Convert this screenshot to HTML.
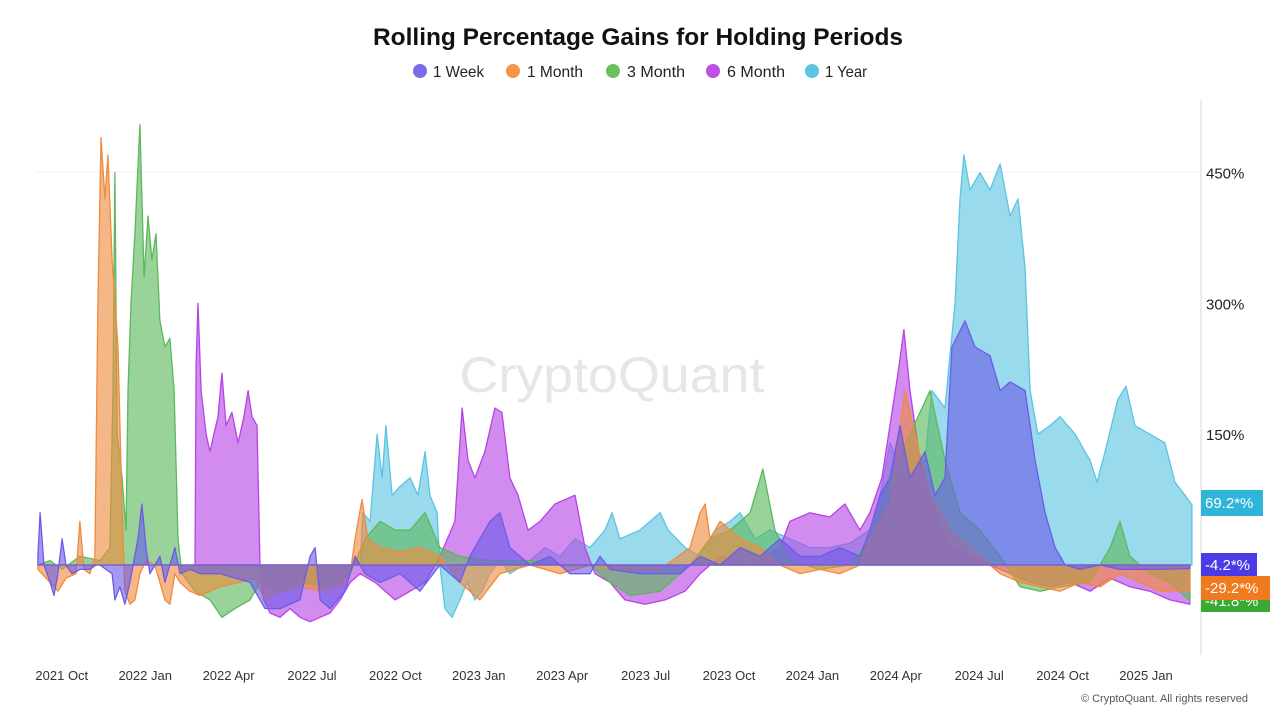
<!DOCTYPE html>
<html><head><meta charset="utf-8"><style>
html,body{margin:0;padding:0;background:#fff;}
svg{display:block;font-family:"Liberation Sans",sans-serif;}
</style></head><body>
<svg id="chart" width="1280" height="720" viewBox="0 0 1280 720">
<text x="638" y="45" text-anchor="middle" font-size="24" font-weight="bold" fill="#111" textLength="530" lengthAdjust="spacingAndGlyphs">Rolling Percentage Gains for Holding Periods</text>
<g font-size="16" fill="#222">
<g><circle cx="420" cy="71" r="7" fill="#7b6cea"/><text x="433" y="77" textLength="51" lengthAdjust="spacingAndGlyphs">1 Week</text></g>
<g><circle cx="513" cy="71" r="7" fill="#f4954a"/><text x="527" y="77" textLength="56" lengthAdjust="spacingAndGlyphs">1 Month</text></g>
<g><circle cx="613" cy="71" r="7" fill="#6cc05c"/><text x="627" y="77" textLength="58" lengthAdjust="spacingAndGlyphs">3 Month</text></g>
<g><circle cx="713" cy="71" r="7" fill="#c04fe0"/><text x="727" y="77" textLength="58" lengthAdjust="spacingAndGlyphs">6 Month</text></g>
<g><circle cx="812" cy="71" r="7" fill="#5ec4e4"/><text x="825" y="77" textLength="42" lengthAdjust="spacingAndGlyphs">1 Year</text></g>
</g>
<line x1="35" y1="172" x2="1200" y2="172" stroke="#f2f2f2"/>
<text x="612" y="392" text-anchor="middle" font-size="50" fill="#e6e6e6" textLength="305" lengthAdjust="spacingAndGlyphs">CryptoQuant</text>
<g id="series"></g>
<line x1="1201" y1="100" x2="1201" y2="655" stroke="#d8d8d8"/>
<g id="yticks" font-size="15" fill="#222"></g>
<g id="xticks" font-size="13" fill="#333"></g>
<g id="labels" font-size="15" fill="#fff"></g>
<text x="1248" y="702" text-anchor="end" font-size="11" fill="#555">© CryptoQuant. All rights reserved</text>
</svg>
<script>
// time in months since 2021-09-01
const yearT=[11.73,11.83,12.09,12.34,12.52,12.66,12.88,13.17,13.53,13.81,14.07,14.24,14.50,14.60,14.78,15.04,15.32,15.58,15.86,16.12,16.40,16.76,17.12,17.84,18.38,18.92,19.46,20.00,20.54,20.79,21.08,21.80,22.52,22.81,23.42,23.96,24.50,25.04,25.40,25.94,26.47,27.19,27.91,28.63,29.35,30.07,30.43,30.79,31.33,32.05,32.30,32.77,33.13,33.31,33.45,33.67,34.03,34.39,34.75,35.11,35.40,35.65,35.83,36.11,36.55,36.91,37.45,37.99,38.24,38.53,38.99,39.28,39.60,40.14,40.68,41.04,41.40,41.65];
const yearV=[0,60,50,150,100,160,80,90,100,80,130,80,60,0,-50,-60,-40,-20,-40,-30,-10,5,-10,5,20,10,30,20,40,60,30,40,60,40,20,10,40,50,60,30,40,30,20,20,25,40,80,140,100,120,200,180,300,420,470,430,450,430,460,400,420,340,200,150,160,170,150,120,95,130,190,205,160,150,140,95,80,69];

const sixT=[5.61,5.79,5.83,5.90,6.01,6.19,6.33,6.47,6.62,6.76,6.91,7.12,7.34,7.55,7.70,7.84,8.02,8.13,8.27,8.49,8.85,9.21,9.57,9.93,10.29,10.65,11.01,11.37,11.73,12.27,12.99,13.53,14.07,14.60,15.14,15.40,15.61,15.86,16.22,16.58,16.83,17.12,17.41,17.77,18.20,18.74,19.46,19.82,20.18,20.72,21.26,21.98,22.70,23.42,23.96,24.68,25.76,26.83,27.19,27.91,28.63,29.17,29.71,30.07,30.50,31.08,31.29,31.51,31.87,32.41,32.95,33.67,34.39,35.11,35.83,36.55,37.27,37.99,38.71,39.42,40.14,40.86,41.58];
const sixV=[0,0,230,300,200,150,130,150,170,220,160,175,140,170,200,170,160,0,-40,-55,-60,-50,-60,-65,-60,-55,-40,-20,-10,-20,-40,-30,-20,10,50,180,120,100,130,180,175,100,80,40,50,70,80,20,-10,-20,-40,-45,-40,-30,-10,10,0,20,50,60,55,70,40,60,100,220,270,200,120,60,20,10,0,-10,-20,-25,-20,-30,-15,-25,-30,-40,-45];

const threeT=[0.14,0.58,1.01,1.65,2.37,2.73,2.84,2.91,2.99,3.17,3.31,3.38,3.49,3.63,3.81,3.96,4.10,4.24,4.39,4.53,4.71,4.89,5.04,5.18,5.32,5.79,6.33,6.76,7.23,7.77,8.13,8.85,9.57,10.65,11.37,11.91,12.45,12.99,13.53,14.07,14.60,15.32,16.40,17.84,18.92,20.00,20.72,21.44,22.52,23.60,24.32,25.04,25.76,26.22,26.65,27.19,28.27,29.35,30.07,30.79,31.51,32.23,32.77,33.31,34.03,34.75,35.47,36.19,36.91,37.99,38.71,39.06,39.42,40.14,40.86,41.58];
const threeV=[0,5,-5,10,5,20,200,450,150,100,40,200,300,380,505,330,400,350,380,280,250,260,200,30,-10,-30,-40,-60,-50,-40,-20,-30,-20,-25,-10,30,50,40,40,60,20,10,5,5,0,0,-20,-35,-30,0,30,40,60,110,40,5,-5,0,30,100,150,200,120,60,40,10,-25,-30,-25,-20,20,50,10,-10,-20,-41];

const monthT=[0.14,0.58,0.86,1.15,1.51,1.65,1.80,2.01,2.19,2.30,2.41,2.55,2.66,2.81,3.02,3.17,3.27,3.45,3.63,3.81,4.03,4.35,4.71,4.89,5.07,5.25,5.61,5.97,6.33,6.69,7.41,7.95,8.31,8.85,9.57,10.29,11.01,11.37,11.55,11.80,12.01,12.45,13.17,13.88,14.60,15.32,16.04,16.76,17.84,18.92,20.00,21.08,22.52,23.60,23.96,24.14,24.32,24.68,25.40,26.12,26.83,27.55,28.27,28.99,29.71,30.07,30.79,31.33,31.69,32.23,32.95,33.67,34.39,34.75,35.47,36.19,36.91,37.63,38.35,39.06,39.78,40.50,41.58];
const monthV=[-5,-20,-30,-15,-10,50,-5,-10,10,300,490,420,470,350,250,60,-30,-45,-40,-10,5,0,-40,-45,-10,-20,-30,-35,-30,-25,-20,-15,-40,-30,-25,-30,-25,-10,30,75,30,20,15,20,10,-20,-40,-10,0,-10,0,-5,-5,20,60,70,30,50,30,20,0,-10,-5,-10,0,30,70,200,150,80,40,20,0,-10,-20,-25,-30,-20,-25,-10,-20,-30,-29];

const weekT=[0.14,0.22,0.36,0.58,0.72,0.86,1.01,1.15,1.37,1.65,2.01,2.23,2.37,2.81,2.91,3.09,3.27,3.45,3.74,3.88,4.03,4.17,4.35,4.53,4.71,5.07,5.25,5.61,5.97,6.69,7.77,8.31,8.85,9.57,9.93,10.11,10.29,10.65,11.19,11.37,11.55,11.91,12.45,13.17,13.88,14.60,15.32,15.68,16.40,16.76,17.12,17.84,18.56,19.28,20.00,20.36,20.72,21.80,22.52,23.24,23.96,24.68,25.40,26.12,26.83,27.55,28.27,28.99,29.71,30.07,30.43,30.79,31.15,31.51,32.05,32.41,32.77,33.02,33.49,33.85,34.39,34.75,35.11,35.65,36.01,36.37,36.73,37.09,37.63,38.35,39.06,39.78,40.50,41.58];
const weekV=[10,60,0,-20,-35,-10,30,0,-10,-5,-5,0,0,-10,-40,-25,-45,-20,30,70,20,-10,0,10,-20,20,-10,-5,-10,-10,-20,-50,-50,-40,10,20,-40,-50,-30,-10,10,-10,-20,-10,-30,0,-20,10,50,60,20,0,10,-10,-10,10,-5,-10,-10,-10,10,0,20,10,30,10,10,20,10,40,80,100,160,100,130,80,100,250,280,250,240,200,210,200,120,60,20,0,-5,0,-5,-5,-5,-4];

const yTickValues=[150,300,450];
const xTickLabels=["2021 Oct","2022 Jan","2022 Apr","2022 Jul","2022 Oct","2023 Jan","2023 Apr","2023 Jul","2023 Oct","2024 Jan","2024 Apr","2024 Jul","2024 Oct","2025 Jan"];
const xTickT=[1,4,7,10,13,16,19,22,25,28,31,34,37,40];
const lastLabels=["69.2*%","-4.2*%","-29.2*%","-41.8*%"];

const NS="http://www.w3.org/2000/svg";
const X=t=>34+27.8*t;
const Y=v=>565-0.872*v;
function mk(tag,attrs,parent){const e=document.createElementNS(NS,tag);for(const k in attrs)e.setAttribute(k,attrs[k]);parent.appendChild(e);return e;}

const series=[
 {name:"series-1-year",t:yearT,v:yearV,c:"#5bc4e2"},
 {name:"series-6-month",t:sixT,v:sixV,c:"#b644e3"},
 {name:"series-3-month",t:threeT,v:threeV,c:"#5cb85c"},
 {name:"series-1-month",t:monthT,v:monthV,c:"#f08a3e"},
 {name:"series-1-week",t:weekT,v:weekV,c:"#6c5ce7"}
];
const sg=document.getElementById('series');
series.forEach(s=>{
 let d="M"+X(s.t[0]).toFixed(1)+" "+Y(0);
 s.t.forEach((t,i)=>{d+=" L"+X(t).toFixed(1)+" "+Y(s.v[i]).toFixed(1);});
 d+=" L"+X(s.t[s.t.length-1]).toFixed(1)+" "+Y(0)+" Z";
 const p=mk('path',{d:d,fill:s.c,'fill-opacity':0.62,stroke:s.c,'stroke-width':1.3,'stroke-linejoin':'round'},sg);
 
 
});
const yg=document.getElementById('yticks');
yTickValues.forEach(v=>{
 const tx=mk('text',{x:1206,y:Y(v)+6},yg);
 
 
 tx.textContent=v+"%";
});
const xg=document.getElementById('xticks');
xTickLabels.forEach((l,i)=>{
 const tx=mk('text',{x:X(xTickT[i]),y:680,'text-anchor':'middle'},xg);
 
 
 tx.textContent=l;
});
const lg=document.getElementById('labels');
const boxes=[
 {y:490,w:62,h:26,c:"#2fb4da",i:0},
 {y:590,w:69,h:22,c:"#3aa935",i:3},
 {y:553,w:56,h:24,c:"#4a3be6",i:1},
 {y:576,w:69,h:24,c:"#f07a1e",i:2}
];
boxes.forEach(b=>{
 const g=mk('g',{},lg);
 
 
 mk('rect',{x:1201,y:b.y,width:b.w,height:b.h,fill:b.c},g);
 const tx=mk('text',{x:1205,y:b.y+b.h/2+5},g);
 tx.textContent=lastLabels[b.i];
});
</script>
</body></html>
